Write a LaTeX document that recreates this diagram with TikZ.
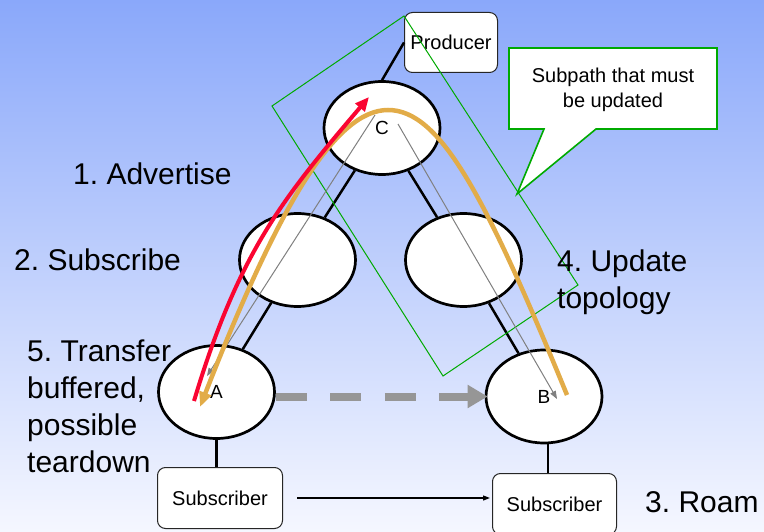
\documentclass[tikz,border=0pt]{standalone}
\usepackage{fontspec}
\setmainfont{Liberation Sans}
\usetikzlibrary{arrows.meta,shapes.geometric,calc}
\definecolor{bgtop}{RGB}{138,168,250}
\definecolor{bgbot}{RGB}{245,247,255}
\definecolor{grn}{RGB}{0,170,0}
\definecolor{redc}{RGB}{250,5,50}
\definecolor{goldc}{RGB}{226,172,72}
\definecolor{gry}{RGB}{128,128,128}
\definecolor{dgry}{RGB}{150,150,150}
\frenchspacing
\begin{document}
\begin{tikzpicture}[x=1bp,y=-1bp,
  router/.style={ellipse,draw=black,line width=2.7bp,fill=white,minimum width=116bp,minimum height=93bp,inner sep=0pt,font=\fontsize{19bp}{22bp}\selectfont},
  endbox/.style={draw=black!85,line width=1bp,fill=white,rounded corners=8bp,inner sep=0pt,font=\fontsize{20bp}{24bp}\selectfont},
  link/.style={line width=2.5bp,black},
  biglabel/.style={font=\fontsize{30bp}{37bp}\selectfont,inner sep=0pt},
  thinarrow/.style={gry,line width=1bp,-{Triangle[length=8bp,width=6bp]}}
]
\useasboundingbox (0,0) rectangle (764,532);
\shade[top color=bgtop,bottom color=bgbot] (0,0) rectangle (764,532);

% nodes
\node[router] (C) at (382,128) {C};
\node[router] (L) at (297.5,260) {};
\node[router] (R) at (463.5,260) {};
\node[router] (A) at (216.5,392) {A};
\node[router] (B) at (544,396.5) {B};
\node[endbox,minimum width=93bp,minimum height=60bp] (P) at (451,42.5) {Producer};
\node[endbox,minimum width=125bp,minimum height=61bp] (S1) at (220,498) {Subscriber};
\node[endbox,minimum width=124bp,minimum height=61bp] (S2) at (554.5,504) {Subscriber};

% tree links
\draw[link] (P.west) -- (C.north);
\draw[link] (C) -- (L);
\draw[link] (L) -- (A);
\draw[link] (C) -- (R);
\draw[link] (R) -- (B);
\draw[link] (A.south) -- (A.south |- S1.north);
\draw[link] (B.-85) -- (B.-85 |- S2.north);

% roam arrow
\draw[line width=1.2bp,-{Triangle[length=7bp,width=5bp]}] ([xshift=14bp]S1.east) -- ([xshift=-2bp]S1.east -| S2.west);

% green subpath box
\draw[grn,line width=1bp] (404,16) -- (272,106) -- (443,376) -- (578,285) -- cycle;

% callout
\filldraw[fill=white,draw=grn,line width=1.6bp] (509,48) -- (717,48) -- (717,129) -- (596,129) -- (517,194) -- (544,129) -- (509,129) -- cycle;
\node[font=\fontsize{20bp}{25bp}\selectfont,align=center,inner sep=0pt] (note) at (613,90) {Subpath that must\\be updated};

% dashed transfer arrow
\draw[dgry,line width=8bp,dash pattern=on 31bp off 23.5bp,-{Triangle[length=20bp,width=22bp]}] (A.east |- B.west) -- ([xshift=3bp]B.west);

% gray path arrows
\draw[thinarrow] ($(C)+(-7,-13)$) -- ($(A)+(-9.5,-16)$);
\draw[thinarrow] ($(C)+(16,-4)$) -- ($(B)+(13,2.5)$);

% gold update path
\draw[goldc,line width=4.5bp,-{Triangle[length=15bp,width=12bp]}] ($(B)+(23,-1.5)$) .. controls (485,195) and (440,110) .. (388,110) .. controls (335,110) and (278,207) .. ($(A)+(-16.5,15)$);

% red advertise path
\draw[redc,line width=4bp,-{Triangle[length=14bp,width=12bp]}] ($(A)+(-22.5,9)$) .. controls (239,251) and (284,197) .. ($(C)+(-13,-31)$);

% labels
\node[biglabel,anchor=base west] (l1) at (73,185) {1. Advertise};
\node[biglabel,anchor=base west] (l2) at (14,271) {2. Subscribe};
\node[biglabel,anchor=base west] (l3) at (645,512) {3. Roam};
\node[biglabel,align=left,anchor=north west] (l4) at (557,250) {4. Update\\topology};
\node[biglabel,align=left,anchor=north west] (l5) at (27,340) {5. Transfer\\buffered,\\possible\\teardown};
\end{tikzpicture}
\end{document}
